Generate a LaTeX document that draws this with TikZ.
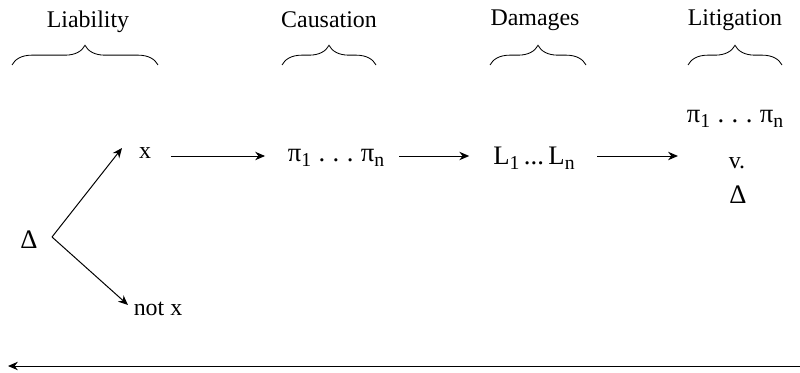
\documentclass[tikz,border=0pt]{standalone}
\usepackage{fontspec}
\setmainfont{Liberation Serif}
\usetikzlibrary{arrows.meta,decorations.pathreplacing}
\newcommand{\lowsub}[1]{\raisebox{-3.5pt}{\fontsize{14}{14}\selectfont #1}}
\begin{document}
\begin{tikzpicture}[x=0.025cm,y=-0.025cm]
        \tikzset{every node/.style = {font=\fontsize{17}{20}\selectfont, inner sep=0pt}}
        \tikzset{big/.style = {font=\fontsize{19}{22}\selectfont}}
        \tikzset{arr/.style = {-{Stealth[length=7pt,width=6pt]}, line width=0.7pt}}
        \tikzset{stagebrace/.style = {decorate, decoration={brace, amplitude=14pt}, line width=0.6pt}}

        \useasboundingbox (0,0) rectangle (800,373);

        % stage headings
        \node (liab) at (88, 22) {Liability};
        \node (caus) at (329, 20) {Causation};
        \node (dam) at (535, 20) {Damages};
        \node (lit) at (735, 20) {Litigation};

        \draw[stagebrace] (12, 65) -- (158, 65);
        \draw[stagebrace] (282, 65) -- (376, 65);
        \draw[stagebrace] (490, 65) -- (586, 65);
        \draw[stagebrace] (688, 65) -- (782, 65);

        % the chain
        \node[big] (d) at (29, 240) {Δ};
        \node (x) at (145, 153) {x};
        \node (notx) at (158, 309) {not x};
        \node[big] (pi) at (336, 158) {π\lowsub{1}\;.\;.\;.\;π\lowsub{n}};
        \node[big] (loss) at (534, 158) {L\lowsub{1}\,...\,L\lowsub{n}};

        \node[big] (pi2) at (735, 119) {π\lowsub{1}\;.\;.\;.\;π\lowsub{n}};
        \node (vs) at (737, 163) {v.};
        \node[big] (d2) at (738, 195) {Δ};

        \coordinate (row) at (0, 156);
        \coordinate (fork) at (52, 237);
        \coordinate (upTip) at (122, 148);
        \coordinate (downTip) at (128, 305);

        \draw[arr] (fork) -- (upTip);
        \draw[arr] (fork) -- (downTip);

        \draw[arr, shorten <=14pt, shorten >=16pt] (x.east |- row) -- (pi.west |- row);
        \draw[arr, shorten <=10.5pt, shorten >=17pt] (pi.east |- row) -- (loss.west |- row);
        \draw[arr, shorten <=16pt, shorten >=36pt] (loss.east |- row) -- (vs.west |- row);

        % time line along the bottom
        \coordinate (timeR) at (800, 366);
        \coordinate (timeL) at (8, 366);
        \draw[arr] (timeR) -- (timeL);

    \end{tikzpicture}
\end{document}
